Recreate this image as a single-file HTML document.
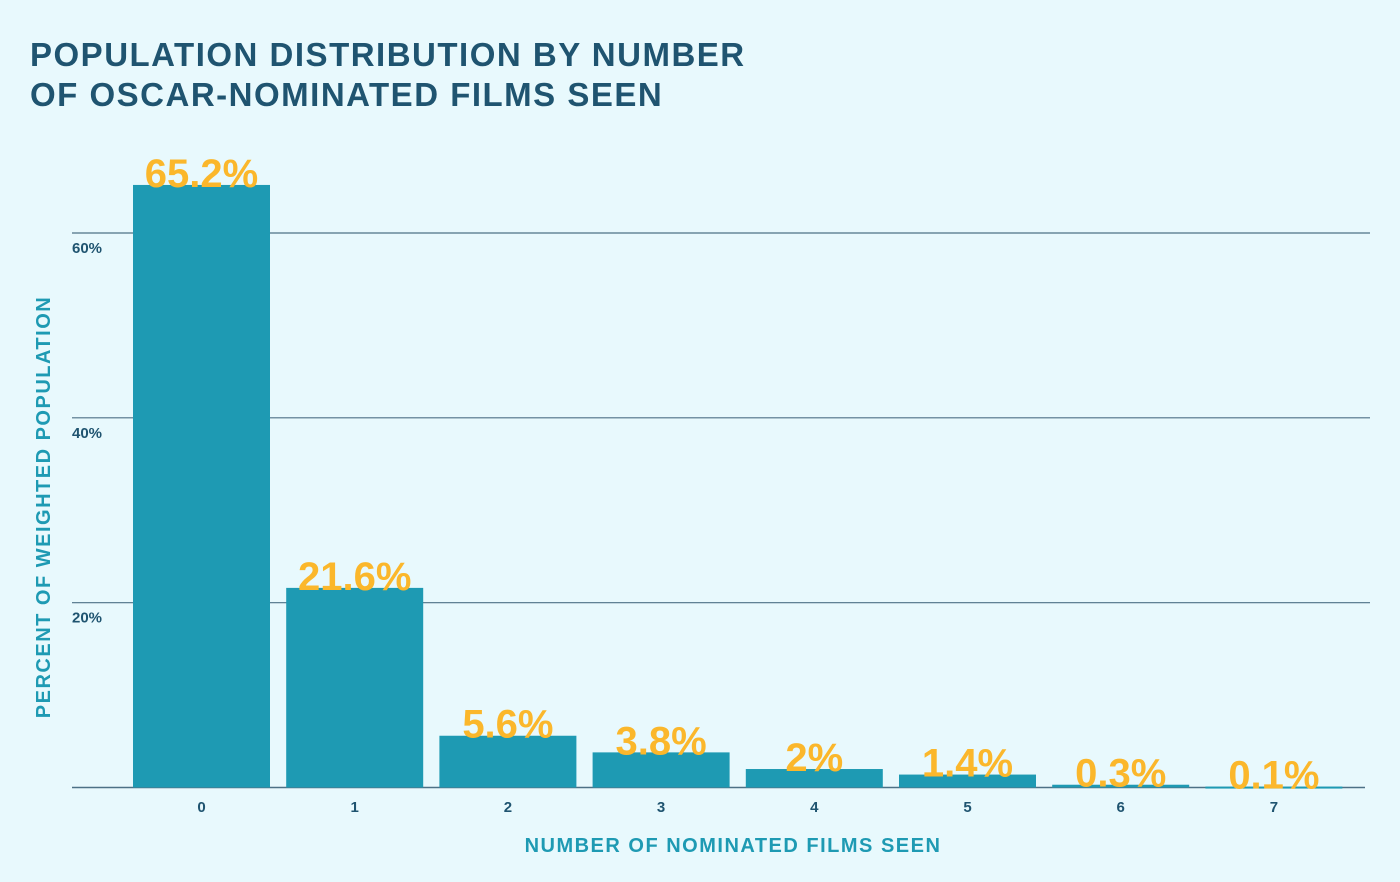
<!DOCTYPE html>
<html><head><meta charset="utf-8"><style>
body{margin:0;background:#e8f9fd;font-family:"Liberation Sans",sans-serif;}
svg{display:block}
</style></head><body>
<svg width="1400" height="882" id="c">
<text x="30" y="66" font-size="33" font-weight="bold" fill="#1f5470" letter-spacing="1.5">POPULATION DISTRIBUTION BY NUMBER</text>
<text x="30" y="106" font-size="33" font-weight="bold" fill="#1f5470" letter-spacing="1.5">OF OSCAR-NOMINATED FILMS SEEN</text>
<text transform="translate(50,507) rotate(-90)" text-anchor="middle" font-size="20" font-weight="bold" fill="#1e9ab3" letter-spacing="1.5">PERCENT OF WEIGHTED POPULATION</text>
<text x="733" y="852" text-anchor="middle" font-size="20" font-weight="bold" fill="#1e9ab3" letter-spacing="1.5">NUMBER OF NOMINATED FILMS SEEN</text>
<g id="grid"></g><g id="bars"></g>
</svg>
<script>
const categories=["0","1","2","3","4","5","6","7"];
const values=[65.2,21.6,5.6,3.8,2,1.4,0.3,0.1];
const valueLabels=["65.2%","21.6%","5.6%","3.8%","2%","1.4%","0.3%","0.1%"];
const yTicks=[20,40,60];
const yTickLabels=["20%","40%","60%"];
const NS="http://www.w3.org/2000/svg";
const y0=787.5,pxPer=(787.5-233)/60;
const y=v=>y0-v*pxPer;
const x=i=>201.5+i*153.2;
const bw=137;
const grid=document.getElementById('grid'),bars=document.getElementById('bars');
function mk(t,a,p){const e=document.createElementNS(NS,t);for(const k in a)e.setAttribute(k,a[k]);p.appendChild(e);return e;}
yTicks.forEach((t,i)=>{
 const l=mk('line',{x1:72,x2:1370,y1:y(t),y2:y(t),stroke:'#4d7186','stroke-width':1.2},grid);
 
 
 const tx=mk('text',{x:72,y:y(t)+20,'font-size':15,'font-weight':'bold',fill:'#1f5470'},grid);
 tx.textContent=yTickLabels[i];
 
 
});
const base=mk('line',{x1:72,x2:1365,y1:y0,y2:y0,stroke:'#4d7186','stroke-width':1.5},grid);


values.forEach((v,i)=>{
 const r=mk('rect',{x:x(i)-bw/2,y:y(v),width:bw,height:Math.max(y0-y(v),2),fill:'#1e9ab3'},bars);
 
 
 const t=mk('text',{x:x(i),y:y(v)+2,'text-anchor':'middle','font-size':40,'font-weight':'bold',fill:'#fbb72b'},bars);
 t.textContent=valueLabels[i];
 
 
 const c=mk('text',{x:x(i),y:812,'text-anchor':'middle','font-size':15,'font-weight':'bold',fill:'#1f5470'},bars);
 c.textContent=categories[i];
 
 
});
</script>
</body></html>
